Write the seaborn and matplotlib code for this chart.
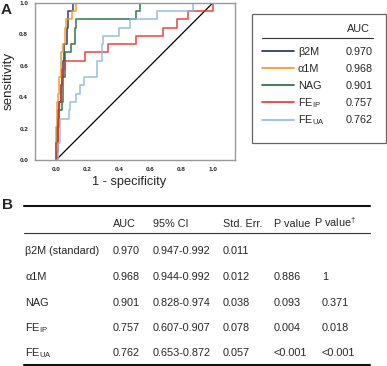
import numpy as np
import pandas as pd
import matplotlib
matplotlib.use("Agg")
import matplotlib.pyplot as plt
import seaborn as sns
from matplotlib.patches import Rectangle

# ---------------- data ----------------
markers = ["β2M", "α1M", "NAG", "FE$_\\mathregular{IP}$", "FE$_\\mathregular{UA}$"]
legend_auc = ["0.970", "0.968", "0.901", "0.757", "0.762"]
colors = ["#1c2f5e", "#f7941d", "#1d6b3b", "#ee3030", "#8db8e3"]

b2m_fpr = [0, 0, 0.005, 0.01, 0.02, 0.03, 0.035, 0.045, 0.052, 0.068, 0.078, 0.11, 1.0]
b2m_tpr = [0, 0.105, 0.211, 0.316, 0.368, 0.474, 0.526, 0.632, 0.737, 0.842, 0.947, 1.0, 1.0]

a1m_fpr = [0, 0, 0.005, 0.012, 0.02, 0.03, 0.045, 0.055, 0.065, 0.10, 0.13, 1.0]
a1m_tpr = [0, 0.211, 0.368, 0.421, 0.526, 0.684, 0.737, 0.842, 0.895, 0.947, 1.0, 1.0]

nag_fpr = [0, 0.005, 0.01, 0.02, 0.035, 0.042, 0.06, 0.094, 0.118, 0.13, 0.51, 0.535, 1.0]
nag_tpr = [0, 0.053, 0.211, 0.316, 0.368, 0.526, 0.684, 0.737, 0.842, 0.895, 0.947, 1.0, 1.0]

feip_fpr = [0, 0, 0.01, 0.02, 0.03, 0.036, 0.057, 0.185, 0.33, 0.51, 0.68, 0.77, 0.84, 1.0]
feip_tpr = [0, 0.105, 0.263, 0.368, 0.474, 0.579, 0.632, 0.684, 0.737, 0.789, 0.842, 0.895, 0.947, 1.0]

feua_fpr = [0, 0.01, 0.025, 0.08, 0.09, 0.13, 0.155, 0.175, 0.26, 0.295, 0.30, 0.40, 0.47, 0.64, 0.875, 1.0]
feua_tpr = [0, 0.105, 0.263, 0.316, 0.368, 0.421, 0.474, 0.526, 0.632, 0.737, 0.789, 0.842, 0.895, 0.947, 1.0, 1.0]

ref_x = [0, 1]
ref_y = [0, 1]

ticks = [0.0, 0.2, 0.4, 0.6, 0.8, 1.0]
tick_labels = ["0.0", "0.2", "0.4", "0.6", "0.8", "1.0"]

table_header = ["AUC", "95% CI", "Std. Err.", "P value", "P value$^\\mathregular{†}$"]
table_names = ["β2M (standard)", "α1M", "NAG", "FE$_\\mathregular{IP}$", "FE$_\\mathregular{UA}$"]
table_auc = ["0.970", "0.968", "0.901", "0.757", "0.762"]
table_ci = ["0.947-0.992", "0.944-0.992", "0.828-0.974", "0.607-0.907", "0.653-0.872"]
table_se = ["0.011", "0.012", "0.038", "0.078", "0.057"]
table_p = ["", "0.886", "0.093", "0.004", "<0.001"]
table_p2 = ["", "1", "0.371", "0.018", "<0.001"]

# ---------------- style ----------------
sns.set_style("white")
plt.rcParams["font.family"] = ["Liberation Sans", "DejaVu Sans"]
plt.rcParams["mathtext.fontset"] = "custom"
plt.rcParams["mathtext.rm"] = "Liberation Sans"

W, H = 387, 366
fig = plt.figure(figsize=(W / 100, H / 100), dpi=100)

# ROC axes (pixel layout: left 35, right 235, top 2.7, bottom 160)
ax = fig.add_axes([35 / W, 1 - 160 / H, 200 / W, 157.3 / H])

curves = [(b2m_fpr, b2m_tpr), (a1m_fpr, a1m_tpr), (nag_fpr, nag_tpr),
          (feip_fpr, feip_tpr), (feua_fpr, feua_tpr)]
frames = []
for i, (fx, ty) in enumerate(curves):
    frames.append(pd.DataFrame({"fpr": fx, "tpr": ty, "marker": markers[i]}))
df = pd.concat(frames, ignore_index=True)

sns.lineplot(x=ref_x, y=ref_y, ax=ax, color="black", lw=0.9, estimator=None, sort=False)
for i, m in enumerate(markers):
    sub = df[df["marker"] == m]
    sns.lineplot(data=sub, x="fpr", y="tpr", ax=ax, color=colors[i], lw=1.2, alpha=0.85,
                 estimator=None, sort=False, drawstyle="steps-post", legend=False)

ax.set_xlim(-0.134, 1.14)
ax.set_ylim(0, 1)
ax.set_xticks(ticks)
ax.set_xticklabels(tick_labels)
ax.set_yticks(ticks)
ax.set_yticklabels(tick_labels)
ax.tick_params(axis="both", direction="out", length=3, width=0.8, color="#888888",
               labelsize=4.6, pad=2)
for lab in ax.get_xticklabels() + ax.get_yticklabels():
    lab.set_fontweight("bold")
    lab.set_color("#222222")
for sp in ax.spines.values():
    sp.set_color("#999999")
    sp.set_linewidth(1.0)
ax.set_xlabel("1 - specificity", fontsize=9.2)
ax.set_ylabel("sensitivity", fontsize=9.6)
ax.xaxis.set_label_coords((129 - 35) / 200, (160 - 176) / 157.3)
ax.yaxis.set_label_coords((8.5 - 35) / 200, 0.5)
ax.yaxis.label.set_va("center")
ax.yaxis.label.set_ha("center")

# overlay in pixel coords for legend + table
ov = fig.add_axes([0, 0, 1, 1])
ov.set_xlim(0, W)
ov.set_ylim(H, 0)
ov.axis("off")
ov.patch.set_alpha(0)

# panel labels
ov.text(1, 10, "A", fontsize=11, fontweight="bold", va="center", ha="left")
ov.text(2, 205, "B", fontsize=11, fontweight="bold", va="center", ha="left")

# legend box
ov.add_patch(Rectangle((252, 14), 133.5, 129, fill=False, ec="#666666", lw=0.9))
ov.text(370, 29, "AUC", fontsize=7.8, ha="right", va="center")
ov.plot([262, 373], [38, 38], color="#333333", lw=0.8)
for i in range(len(markers)):
    yy = 50.7 + 17.2 * i
    ov.plot([262, 294], [yy, yy], color=colors[i], lw=1.2)
    ov.text(298, yy + 3.9, markers[i], fontsize=7.8, ha="left", va="baseline")
    ov.text(373, yy + 3.9, legend_auc[i], fontsize=7.8, ha="right", va="baseline")

# table
ov.plot([24, 370], [206, 206], color="#111111", lw=1.5)
ov.plot([24, 370], [233, 233], color="#333333", lw=0.8)
ov.plot([24, 370], [365, 365], color="#111111", lw=1.5)
col_x = [113, 153, 223, 274, 314]
for j, h in enumerate(table_header):
    ov.text(col_x[j], 223 + 3.9, h, fontsize=7.8, ha="left", va="baseline")
val_x = [113, 153, 223, 274, 322]
row_y = [250, 276, 302, 327, 352]
for i in range(len(table_names)):
    yb = row_y[i] + 3.9
    ov.text(25, yb, table_names[i], fontsize=7.8, ha="left", va="baseline")
    for j, col in enumerate([table_auc, table_ci, table_se, table_p, table_p2]):
        ov.text(val_x[j], yb, col[i], fontsize=7.8, ha="left", va="baseline")

fig.savefig("out.png", dpi=100)
